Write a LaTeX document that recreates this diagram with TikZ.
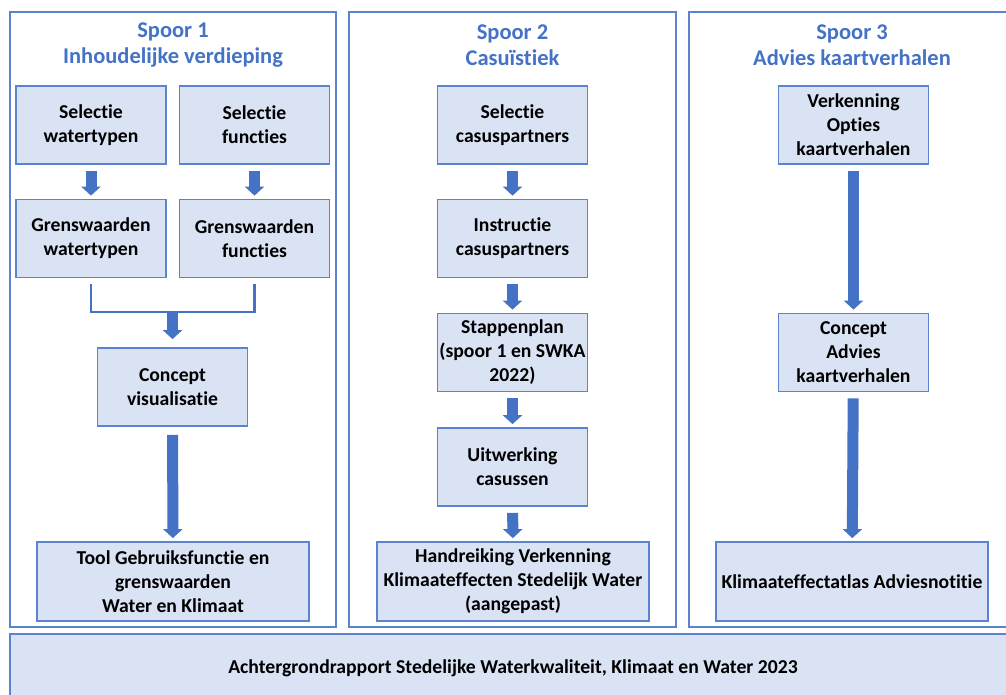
\documentclass[tikz,border=0pt]{standalone}
\usepackage{fontspec}
\setmainfont{Carlito}[Ligatures=NoCommon]
\usetikzlibrary{arrows.meta}

\definecolor{spoorblue}{HTML}{4472C4}
\definecolor{boxfill}{HTML}{DAE3F3}
\definecolor{boxline}{HTML}{5B84D0}

\begin{document}
\begin{tikzpicture}[x=0.02cm,y=-0.02cm,
    box/.style={draw=boxline,fill=boxfill,line width=1pt,align=center,
      minimum width=3cm,minimum height=1.56cm,inner sep=1pt,
      font=\fontsize{11.2}{13.7}\selectfont\bfseries},
    widebox/.style={box,minimum width=5.44cm,minimum height=1.58cm},
    panel/.style={draw=boxline,line width=0.8pt},
    title/.style={align=center,text=spoorblue,
      font=\fontsize{12.8}{14.8}\selectfont\bfseries},
    fat/.style={draw=spoorblue,line width=0.22cm,
      -{Triangle[width=0.38cm,length=0.18cm]},
      shorten <=0.12cm,shorten >=0.06cm},
    joinline/.style={draw=spoorblue,line width=1.6pt}]
  \useasboundingbox (0,0) rectangle (1006,695);
  \clip (0,0) rectangle (1006,695);
  % panels
  \draw[panel] (10,12) rectangle (336,627);
  \draw[panel] (349,12) rectangle (676,627);
  \draw[panel] (689,12) rectangle (1030,627);
  \draw[panel,fill=boxfill] (10,634) rectangle (1030,720);
  \node[title] (t1) at (173,45) {Spoor 1\\Inhoudelijke verdieping};
  \node[title] (t2) at (512.5,45) {Spoor 2\\Casuïstiek};
  \node[title] (t3) at (852,45) {Spoor 3\\Advies kaartverhalen};
  % spoor 1
  \node[box] (selwater) at (91,125) {Selectie\\watertypen};
  \node[box] (selfunc) at (254.5,125) {Selectie\\functies};
  \node[box] (gwwater) at (91,238.5) {Grenswaarden\\watertypen};
  \node[box] (gwfunc) at (254.5,238.5) {Grenswaarden\\functies};
  \node[box] (concept) at (172.5,387) {Concept\\visualisatie};
  \node[widebox] (tool) at (173,581.5) {Tool Gebruiksfunctie en\\grenswaarden\\Water en Klimaat};
  \coordinate (join) at (172.5,312);
  \draw[fat] (selwater) -- (gwwater);
  \draw[fat] (selfunc) -- (gwfunc);
  \draw[joinline] ([yshift=-0.12cm]gwwater.south) |- (join) -| ([yshift=-0.12cm]gwfunc.south);
  \draw[fat,shorten <=0pt,shorten >=0.16cm] (join) -- (concept);
  \draw[fat,shorten <=0.16cm] (concept) -- (tool);
  % spoor 2
  \node[box] (selcasus) at (512.5,125) {Selectie\\casuspartners};
  \node[box] (instr) at (512.5,238.5) {Instructie\\casuspartners};
  \node[box] (stappen) at (512.5,352.5) {Stappenplan\\(spoor 1 en SWKA\\2022)};
  \node[box] (uitw) at (512.5,467) {Uitwerking\\casussen};
  \node[widebox] (handr) at (513,581.5) {Handreiking Verkenning\\Klimaateffecten Stedelijk Water\\(aangepast)};
  \draw[fat] (selcasus) -- (instr);
  \draw[fat] (instr) -- (stappen);
  \draw[fat] (stappen) -- (uitw);
  \draw[fat] (uitw) -- (handr);
  % spoor 3
  \node[box] (verk) at (853.5,125) {Verkenning\\Opties\\kaartverhalen};
  \node[box] (concadv) at (853.5,352.5) {Concept\\Advies\\kaartverhalen};
  \node[widebox] (atlas) at (852,581.5) {Klimaateffectatlas Adviesnotitie};
  \draw[fat] (verk) -- (concadv);
  \draw[fat] (concadv) -- (atlas);
  % achtergrondrapport
  \node[font=\fontsize{11.2}{13.7}\selectfont\bfseries] (rapport) at (513,668)
    {Achtergrondrapport Stedelijke Waterkwaliteit, Klimaat en Water 2023};
\end{tikzpicture}
\end{document}
